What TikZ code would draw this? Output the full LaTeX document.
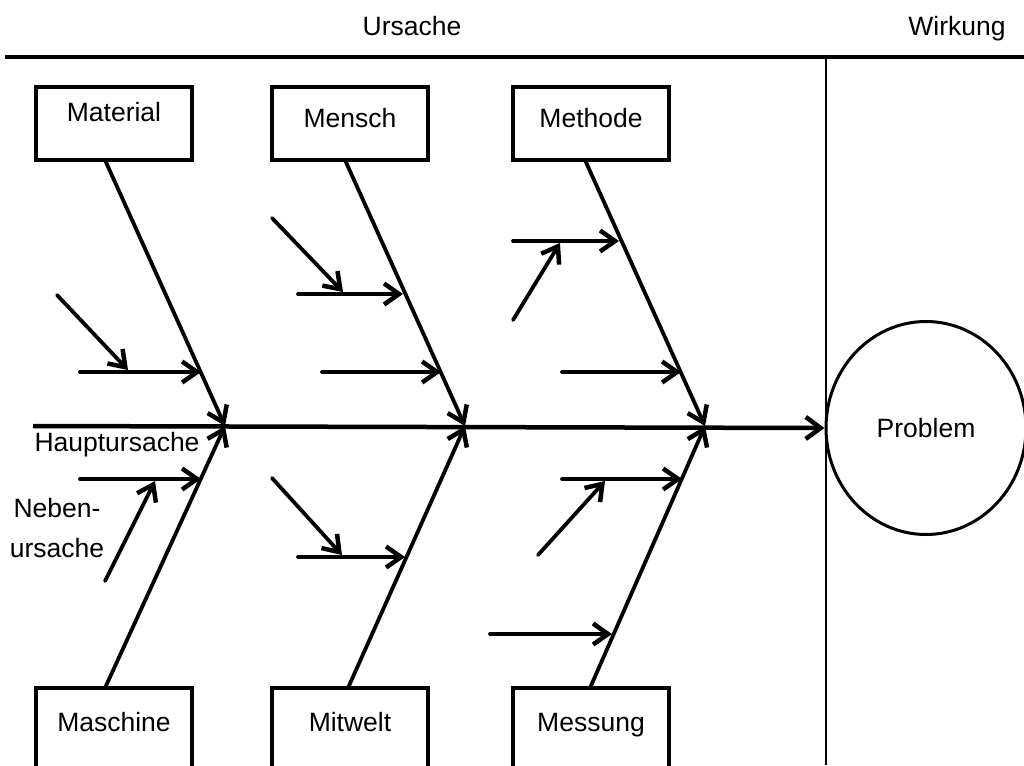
\documentclass[tikz,border=0pt]{standalone}
\usepackage{fontspec}
\setmainfont{Liberation Sans}
\usetikzlibrary{arrows.meta,shapes.geometric}
\begin{document}
\begin{tikzpicture}[x=1pt,y=-1pt,
  lbl/.style={font=\fontsize{26.5}{40}\selectfont, inner sep=0pt, text height=19pt, text depth=0pt},
  box/.style={draw, line width=3.2pt, minimum width=156pt, minimum height=73pt, inner sep=0pt},
  tip/.style={-{Straight Barb[length=15pt,width=21pt,line width=4.5pt]}},
  rib/.style={line width=3.8pt, tip},
  small/.style={line width=3.8pt, line cap=round, tip},
  spine/.style={line width=4.5pt, -{Straight Barb[length=15pt,width=22pt,line width=4.5pt]}},
  openbox/.style={line width=3.2pt}]
\clip (0,0) rectangle (1024,765);
\fill[white] (0,0) rectangle (1024,765);
% headings
\node[lbl] (ursache) at (412,26) {Ursache};
\node[lbl] (wirkung) at (957,26) {Wirkung};
\coordinate (tl) at (5,57);
\coordinate (tr) at (1024,57);
\draw[line width=4.5pt] (tl) -- (tr);
\coordinate (vt) at (826,59);
\coordinate (vb) at (826,765);
\draw[line width=2.5pt] (vt) -- (vb);
% top boxes
\node[box] (material) at (114,123.5) {};
\node[box] (mensch) at (350,123.5) {};
\node[box] (methode) at (591,123.5) {};
\node[lbl] (materialt) at (114,112) {Material};
\node[lbl] (menscht) at (350,118) {Mensch};
\node[lbl] (methodet) at (591,118) {Methode};
% bottom boxes (cut off)
\coordinate (mab) at (36,770); \coordinate (mat) at (36,688);
\coordinate (mbt) at (192,688); \coordinate (mbb) at (192,770);
\draw[openbox] (mab) -- (mat) -- (mbt) -- (mbb);
\coordinate (wab) at (272,770); \coordinate (wat) at (272,688);
\coordinate (wbt) at (428,688); \coordinate (wbb) at (428,770);
\draw[openbox] (wab) -- (wat) -- (wbt) -- (wbb);
\coordinate (sab) at (513,770); \coordinate (sat) at (513,688);
\coordinate (sbt) at (669,688); \coordinate (sbb) at (669,770);
\draw[openbox] (sab) -- (sat) -- (sbt) -- (sbb);
\node[lbl] (maschine) at (114,722) {Maschine};
\node[lbl] (mitwelt) at (350,722) {Mitwelt};
\node[lbl] (messung) at (591,722) {Messung};
% problem
\node[ellipse, draw, line width=3pt, minimum width=200pt, minimum height=213pt, inner sep=0pt] (problem) at (926,428) {};
\node[lbl] (problemt) at (926,428) {Problem};
% spine
\coordinate (s0) at (33,426);
\draw[spine] (s0) -- (problem.west);
% junctions
\coordinate (j1) at (225,426);
\coordinate (j2) at (465,426);
\coordinate (j3) at (705,426);
% ribs
\coordinate (r1) at (105,160);
\coordinate (r2) at (345,160);
\coordinate (r3) at (585,160);
\coordinate (r4) at (105,688);
\coordinate (r5) at (348,688);
\coordinate (r6) at (590,688);
\draw[rib] (r1) -- (j1);
\draw[rib] (r2) -- (j2);
\draw[rib] (r3) -- (j3);
\draw[rib] (r4) -- (j1);
\draw[rib] (r5) -- (j2);
\draw[rib] (r6) -- (j3);
% small arrows: Material
\coordinate (a1s) at (80,372); \coordinate (a1e) at (201,372);
\draw[small] (a1s) -- (a1e);
\coordinate (a2s) at (57,295); \coordinate (a2e) at (128,370);
\draw[small] (a2s) -- (a2e);
% Mensch
\coordinate (b1s) at (298,294); \coordinate (b1e) at (403,294);
\draw[small] (b1s) -- (b1e);
\coordinate (b2s) at (272,218); \coordinate (b2e) at (343,292);
\draw[small] (b2s) -- (b2e);
\coordinate (b3s) at (322,372); \coordinate (b3e) at (441,372);
\draw[small] (b3s) -- (b3e);
% Methode
\coordinate (c1s) at (513,241); \coordinate (c1e) at (619,241);
\draw[small] (c1s) -- (c1e);
\coordinate (c2s) at (513,320); \coordinate (c2e) at (560,243);
\draw[small] (c2s) -- (c2e);
\coordinate (c3s) at (562,372); \coordinate (c3e) at (681,372);
\draw[small] (c3s) -- (c3e);
% Maschine
\coordinate (d1s) at (80,479); \coordinate (d1e) at (201,479);
\draw[small] (d1s) -- (d1e);
\coordinate (d2s) at (105,581); \coordinate (d2e) at (155,481);
\draw[small] (d2s) -- (d2e);
% Mitwelt
\coordinate (e1s) at (272,478); \coordinate (e1e) at (342,555);
\draw[small] (e1s) -- (e1e);
\coordinate (e2s) at (298,557); \coordinate (e2e) at (405,557);
\draw[small] (e2s) -- (e2e);
% Messung
\coordinate (f1s) at (562,479); \coordinate (f1e) at (682,479);
\draw[small] (f1s) -- (f1e);
\coordinate (f2s) at (538,555); \coordinate (f2e) at (605,481);
\draw[small] (f2s) -- (f2e);
\coordinate (f3s) at (490,634); \coordinate (f3e) at (612,634);
\draw[small] (f3s) -- (f3e);
% labels
\node[lbl] (haupt) at (117,442) {Hauptursache};
\node[lbl] (neben1) at (57,508) {Neben-};
\node[lbl] (neben2) at (57,548) {ursache};
\end{tikzpicture}
\end{document}
